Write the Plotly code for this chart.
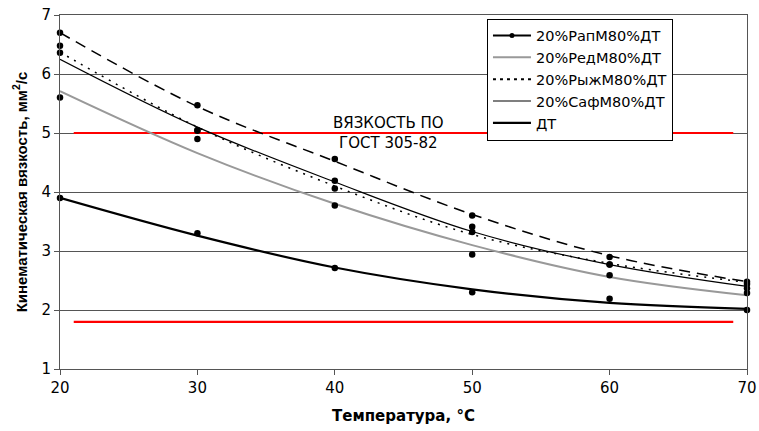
import plotly.graph_objects as go

temps = [20, 30, 40, 50, 60, 70]
names = ["20%РапМ80%ДТ", "20%РедМ80%ДТ", "20%РыжМ80%ДТ", "20%СафМ80%ДТ", "ДТ"]

# measured points
pts_rap = [6.70, 5.47, 4.56, 3.60, 2.90, 2.48]
pts_red = [5.60, 4.90, 3.77, 2.94, 2.59, 2.29]
pts_ryzh = [6.48, 5.05, 4.06, 3.32, 2.77, 2.44]
pts_saf = [6.36, 5.04, 4.19, 3.41, 2.77, 2.37]
pts_dt = [3.90, 3.30, 2.71, 2.30, 2.19, 2.00]

# trend lines
tr_rap = [6.70, 5.45, 4.52, 3.62, 2.92, 2.48]
tr_red = [5.71, 4.66, 3.80, 3.10, 2.56, 2.25]
tr_ryzh = [6.37, 5.10, 4.10, 3.28, 2.79, 2.47]
tr_saf = [6.25, 5.10, 4.17, 3.33, 2.77, 2.40]
tr_dt = [3.90, 3.26, 2.72, 2.35, 2.12, 2.02]

limit_x = [21, 69]
limit_hi = 5.0
limit_lo = 1.8

FONT = "DejaVu Sans, Arial, sans-serif"
FONT_Y = "Arial, Liberation Sans, sans-serif"

fig = go.Figure()

trends = [tr_rap, tr_red, tr_ryzh, tr_saf, tr_dt]
pts = [pts_rap, pts_red, pts_ryzh, pts_saf, pts_dt]
styles = [
    dict(color="black", width=1.5, dash="11px,7px"),
    dict(color="#999999", width=2, dash="solid"),
    dict(color="black", width=1.5, dash="2px,6px"),
    dict(color="black", width=1.2, dash="solid"),
    dict(color="black", width=2.2, dash="solid"),
]
legend_styles = [
    dict(color="black", width=2, dash="solid"),
    dict(color="#999999", width=2, dash="solid"),
    dict(color="black", width=2, dash="3px,4px"),
    dict(color="black", width=1.2, dash="solid"),
    dict(color="black", width=2.2, dash="solid"),
]

# red limit lines
for v in (limit_hi, limit_lo):
    fig.add_trace(go.Scatter(x=limit_x, y=[v, v], mode="lines",
                             line=dict(color="#ff0000", width=2.2),
                             showlegend=False, hoverinfo="skip"))

for tr, st in zip(trends, styles):
    fig.add_trace(go.Scatter(x=temps, y=tr, mode="lines", line=st,
                             line_shape="spline", showlegend=False))

for p in pts:
    fig.add_trace(go.Scatter(x=temps, y=p, mode="markers",
                             marker=dict(color="black", size=6.5),
                             showlegend=False, cliponaxis=False))

for i, (n, st) in enumerate(zip(names, legend_styles)):
    fig.add_trace(go.Scatter(x=[None], y=[None],
                             mode="lines+markers" if i == 0 else "lines",
                             name=n, line=st,
                             marker=dict(color="black", size=5)))

fig.add_annotation(x=43.9, y=5.0, text="ВЯЗКОСТЬ ПО<br>ГОСТ 305-82",
                   showarrow=False, yanchor="middle", xanchor="center",
                   font=dict(family=FONT, size=15, color="black"))

fig.update_layout(
    width=759, height=431,
    margin=dict(l=60, r=12, t=15, b=62),
    paper_bgcolor="white", plot_bgcolor="white",
    font=dict(family=FONT, size=15, color="black"),
    legend=dict(x=0.6215, y=0.99, xanchor="left", yanchor="top",
                bgcolor="white", bordercolor="black", borderwidth=1,
                font=dict(family=FONT, size=14.5), tracegroupgap=0,
                itemwidth=38),
)
fig.update_xaxes(range=[20, 70], tickvals=temps, showgrid=False,
                 showline=True, linecolor="#555555", linewidth=1,
                 mirror=True, ticks="outside", ticklen=5, tickcolor="#555555",
                 zeroline=False, automargin=False,
                 tickfont=dict(family=FONT, size=15),
                 title=dict(text="<b>Температура, °С</b>",
                            font=dict(family=FONT, size=15), standoff=14))
fig.update_yaxes(range=[1, 7], dtick=1, showgrid=True, gridcolor="#555555",
                 gridwidth=1, showline=True, linecolor="#555555", linewidth=1,
                 mirror=True, ticks="outside", ticklen=5, tickcolor="#555555",
                 zeroline=False, automargin=False,
                 tickfont=dict(family=FONT, size=15),
                 title=dict(text="<b>Кинематическая вязкость, мм<sup>2</sup>/с</b>",
                            font=dict(family=FONT_Y, size=15), standoff=10))

fig.write_html("out.html")
